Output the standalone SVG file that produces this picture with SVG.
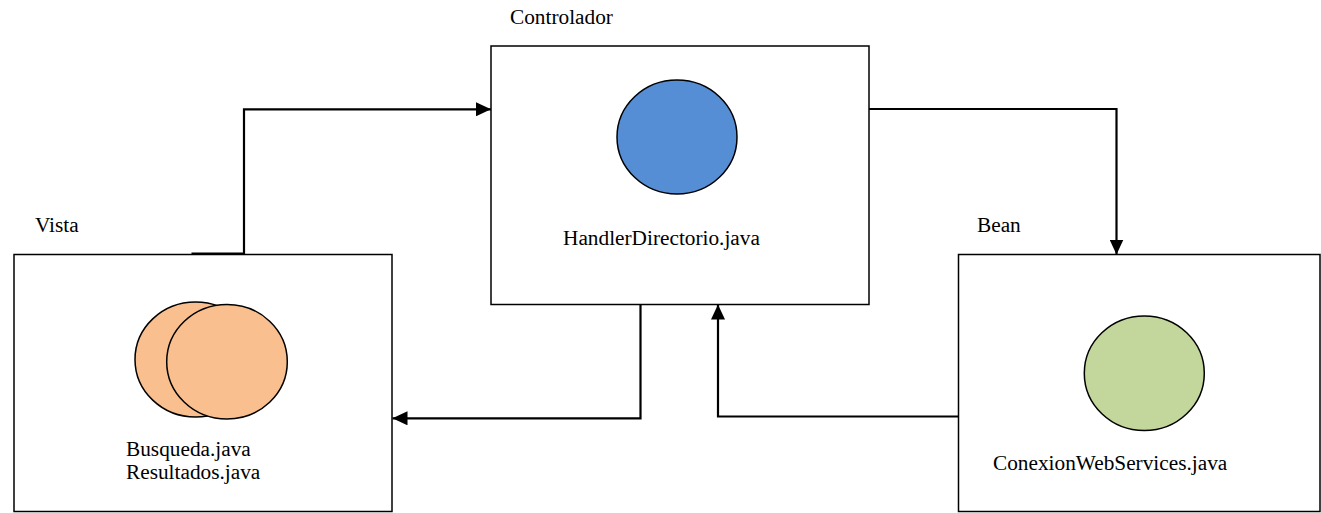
<svg xmlns="http://www.w3.org/2000/svg" width="1321" height="513" viewBox="0 0 1321 513">
<style>
.box{fill:#fff;stroke:#000;stroke-width:1.5}
.ell{stroke:#000;stroke-width:1.5}
.lbl{font-family:"Liberation Serif","Times New Roman",serif;font-size:21.3px;fill:#000}
.con{fill:none;stroke:#000;stroke-width:2.2}
</style>
<defs>
<marker id="arr" viewBox="0 0 15 14" refX="15" refY="7" markerWidth="15" markerHeight="14" markerUnits="userSpaceOnUse" orient="auto">
<path d="M0,0 L15,7 L0,14 Z" fill="#000"/>
</marker>
</defs>
<rect width="1321" height="513" fill="#fff"/>
<g id="vista">
<rect class="box" x="14" y="254.5" width="378" height="257"/>
<ellipse class="ell" cx="195.5" cy="359.5" rx="60.5" ry="57.5" fill="#F9BF8F"/>
<ellipse class="ell" cx="227" cy="361.7" rx="60.3" ry="57.3" fill="#F9BF8F"/>
<text class="lbl" x="35" y="232">Vista</text>
<text class="lbl" x="126" y="456">Busqueda.java</text>
<text class="lbl" x="126" y="479">Resultados.java</text>
</g>
<g id="controlador">
<rect class="box" x="491" y="46" width="378" height="258.5"/>
<ellipse class="ell" cx="677" cy="137" rx="60" ry="57" fill="#558ED5"/>
<text class="lbl" x="510" y="24">Controlador</text>
<text class="lbl" x="563" y="245">HandlerDirectorio.java</text>
</g>
<g id="bean">
<rect class="box" x="958.5" y="254.5" width="361.5" height="257"/>
<ellipse class="ell" cx="1144.3" cy="373.3" rx="60" ry="57.3" fill="#C3D69B"/>
<text class="lbl" x="977" y="232">Bean</text>
<text class="lbl" x="993" y="470">ConexionWebServices.java</text>
</g>
<g id="connectors">
<path class="con" d="M191.5,253.5 H244 V109.3 H491" marker-end="url(#arr)"/>
<path class="con" d="M640.5,304.5 V418.3 H392.5" marker-end="url(#arr)"/>
<path class="con" d="M958.5,416.5 H718 V304.5" marker-end="url(#arr)"/>
<path class="con" d="M869,109 H1116.5 V254.5" marker-end="url(#arr)"/>
</g>
</svg>
